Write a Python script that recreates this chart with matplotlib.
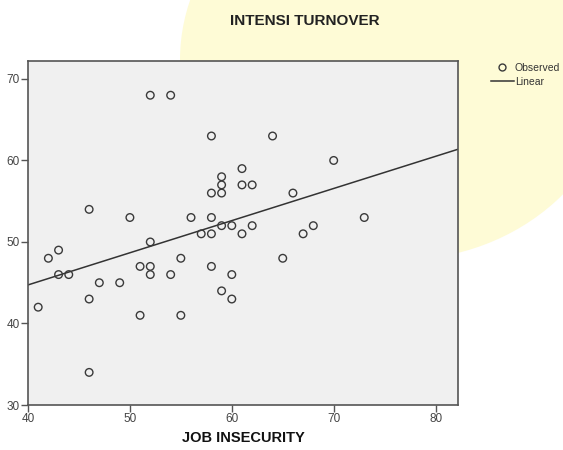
import numpy as np
import matplotlib
matplotlib.use("Agg")
import matplotlib.pyplot as plt
from matplotlib.lines import Line2D
from matplotlib.patches import Ellipse

plt.rcParams['font.family'] = ['Liberation Sans', 'DejaVu Sans']

title = "INTENSI TURNOVER"
x_label = "JOB INSECURITY"
legend_labels = ["Observed", "Linear"]

job_insecurity = [41, 42, 43, 43, 44, 46, 46, 46, 47, 49, 50, 51, 51, 52, 52, 52, 52,
                  54, 54, 55, 55, 56, 57, 58, 58, 58, 58, 58, 59, 59, 59, 59, 59,
                  60, 60, 60, 61, 61, 61, 62, 62, 64, 65, 66, 67, 68, 70, 73]
intensi_turnover = [42, 48, 49, 46, 46, 54, 43, 34, 45, 45, 53, 47, 41, 68, 50, 47, 46,
                    68, 46, 48, 41, 53, 51, 63, 56, 53, 51, 47, 58, 57, 56, 52, 44,
                    52, 46, 43, 59, 57, 51, 57, 52, 63, 48, 56, 51, 52, 60, 53]
x_ticks = [40, 50, 60, 70, 80]
y_ticks = [30, 40, 50, 60, 70]

fig = plt.figure(figsize=(5.63, 4.5), dpi=100)
fig.patch.set_facecolor('white')

# faint watermark-like background
bg = fig.add_axes([0, 0, 1, 1], zorder=-10)
bg.set_xlim(0, 563); bg.set_ylim(450, 0); bg.axis('off')
bg.add_patch(Ellipse((400, 60), 440, 400, facecolor='#fefbd6', edgecolor='none'))

ax = fig.add_axes([28/563, 1 - 405/450, (458-28)/563, (405-61)/450])
ax.set_facecolor('#f0f0f0')

x = np.array(job_insecurity, dtype=float)
y = np.array(intensi_turnover, dtype=float)
ax.scatter(x, y, s=30, facecolors='none', edgecolors='#3a3a3a', linewidths=1.0, zorder=3)

slope, intercept = np.polyfit(x, y, 1)
xl = np.array([40, 82.2])
ax.plot(xl, intercept + slope * xl, color='#333333', lw=1.1, zorder=2)

ax.set_xlim(40, 82.2)
ax.set_ylim(30, 72.2)
ax.set_xticks(x_ticks)
ax.set_yticks(y_ticks)
ax.tick_params(direction='out', length=5, width=1, colors='#555555',
               labelsize=8.5, labelcolor='#444444', pad=1)
for s in ax.spines.values():
    s.set_color('#555555')
    s.set_linewidth(1.2)

fig.text(305/563, 1 - 21/450, title, ha='center', va='center',
         fontsize=11, fontweight='bold', color='#222222')
fig.text(243/563, 1 - 438/450, x_label, ha='center', va='center',
         fontsize=10.5, fontweight='bold', color='#111111')

handles = [Line2D([], [], marker='o', markersize=5, markerfacecolor='none',
                  markeredgecolor='#3a3a3a', linestyle='none', markeredgewidth=1.0),
           Line2D([], [], color='#333333', lw=1.1)]
fig.legend(handles, legend_labels, loc='upper left', bbox_to_anchor=(491/563, 1 - 63/450),
           frameon=False, fontsize=7.5, handlelength=2.2, handletextpad=0.1,
           labelspacing=0.35, borderpad=0, borderaxespad=0, labelcolor='#333333')

fig.savefig('out.png', dpi=100)
